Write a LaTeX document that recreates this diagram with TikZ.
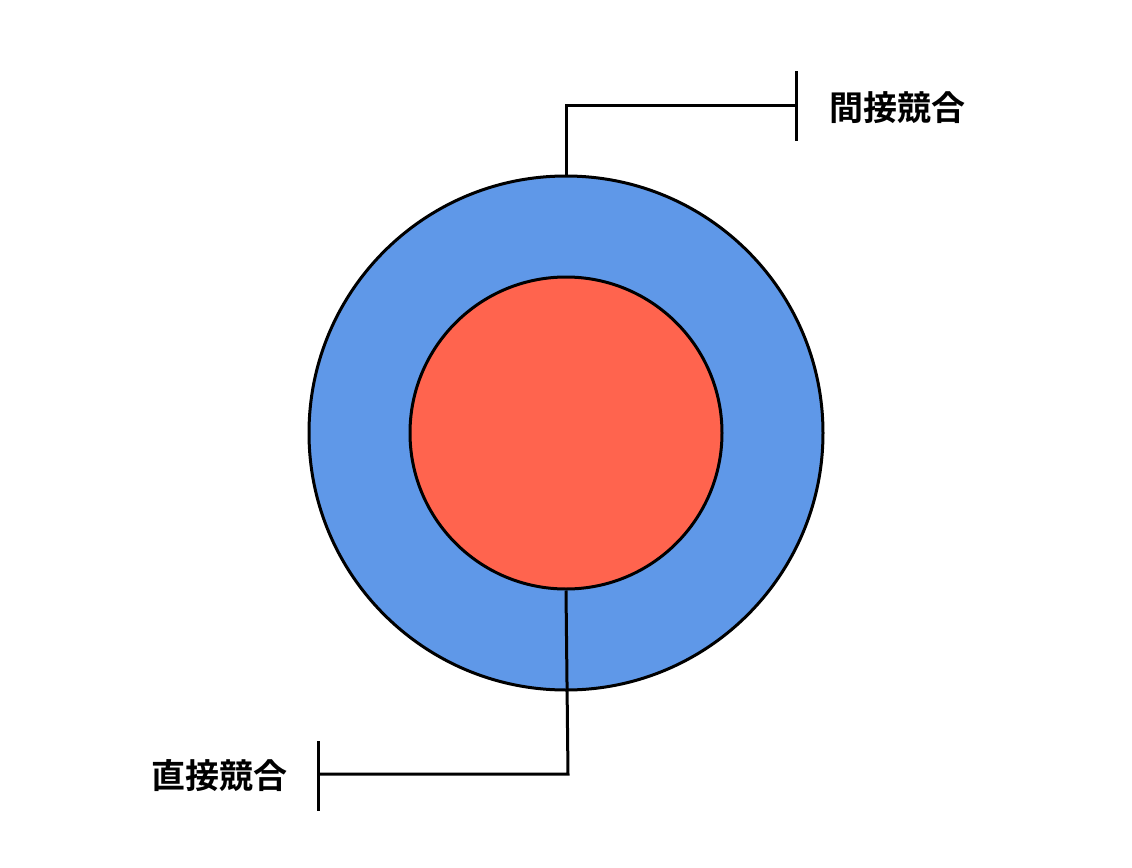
\documentclass[tikz,border=0pt]{standalone}
\usepackage{fontspec}
\newfontfamily\cjk{Noto Sans CJK JP Bold}
\definecolor{ringblue}{HTML}{5F98E8}
\definecolor{corered}{HTML}{FF644E}
\begin{document}
\begin{tikzpicture}[x=0.5pt,y=-0.5pt,
  ring/.style={circle,draw=black,line width=1.5pt,inner sep=0pt},
  lead/.style={draw=black,line width=1.5pt},
  lbl/.style={font=\cjk\fontsize{17}{20}\selectfont,inner sep=0pt}]
\useasboundingbox (0,0) rectangle (1132,868);
\node[ring,fill=ringblue,minimum size=514pt*0.5] (outer) at (566,433) {};
\node[ring,fill=corered,minimum size=312pt*0.5] (inner) at (566,433) {};
% top leader
\coordinate (t1) at (566,105);
\coordinate (t2) at (796,105);
\coordinate (t2a) at (796,71);
\coordinate (t2b) at (796,141);
\draw[lead] (outer.north) -- (t1) -- (t2);
\draw[lead] (t2a) -- (t2b);
\node[lbl,anchor=west] (indirect) at (829,108) {間接競合};
% bottom leader
\coordinate (b1) at (568,774);
\coordinate (b2) at (318,774);
\coordinate (b2a) at (318,741);
\coordinate (b2b) at (318,811);
\draw[lead] (inner.south) -- (b1) -- (b2);
\draw[lead] (b2a) -- (b2b);
\node[lbl,anchor=east] (direct) at (288,776) {直接競合};
\end{tikzpicture}
\end{document}
